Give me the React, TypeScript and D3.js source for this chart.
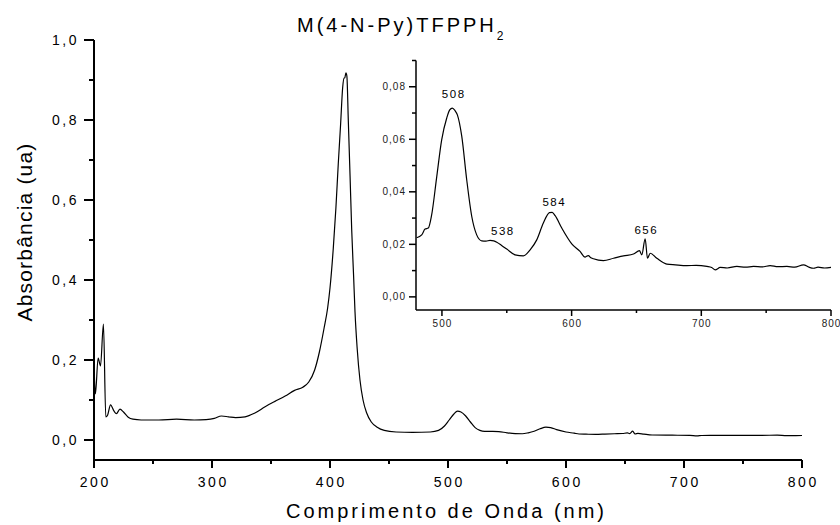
import React from "react";
import * as d3 from "d3";

// ---- Main spectrum data (wavelength nm, absorbance) ----
const mainWavelength = [
  200, 201.2, 203.5, 205.5, 208, 210, 211.5, 214, 217, 219, 222, 225, 229, 233, 240, 255, 270, 285, 295,
  302, 308, 314, 320, 328, 336, 345, 353, 362, 370, 377, 382, 387, 391, 395, 398, 400, 402.8, 405, 407,
  409, 410.7, 411.8, 412.5, 413.5, 414.3, 415.5, 417, 418.4, 420, 421.2, 423, 425.4, 428, 431, 435, 440,
  446, 456, 470, 485, 492, 497, 501, 505, 508, 511, 515, 519, 523, 527, 531, 538, 543, 550, 557, 563,
  568, 573, 578, 583, 587, 592, 600, 607, 611, 617, 625, 633, 641, 648, 652, 654, 656.5, 658.5, 661,
  666, 673, 690, 705, 711, 715, 740, 766, 779, 787, 800,
];
const mainAbsorbance = [
  0.19, 0.115, 0.205, 0.185, 0.29, 0.058, 0.062, 0.088, 0.072, 0.066, 0.077, 0.07, 0.057, 0.052, 0.05,
  0.05, 0.052, 0.05, 0.051, 0.054, 0.06, 0.058, 0.056, 0.058, 0.067, 0.083, 0.096, 0.11, 0.124, 0.132,
  0.145, 0.175, 0.22, 0.28, 0.33, 0.38, 0.48, 0.58, 0.69, 0.79, 0.88, 0.905, 0.905, 0.918, 0.91, 0.8,
  0.66, 0.525, 0.41, 0.32, 0.23, 0.15, 0.1, 0.068, 0.045, 0.032, 0.024, 0.02, 0.019, 0.02, 0.024, 0.035,
  0.05, 0.065, 0.072, 0.07, 0.06, 0.045, 0.031, 0.024, 0.0215, 0.0215, 0.021, 0.018, 0.016, 0.0156,
  0.018, 0.022, 0.028, 0.032, 0.031, 0.026, 0.02, 0.017, 0.015, 0.0145, 0.014, 0.0147, 0.0156, 0.0163,
  0.0176, 0.016, 0.022, 0.015, 0.0166, 0.0147, 0.0125, 0.012, 0.0116, 0.0103, 0.0112, 0.0116, 0.0116,
  0.0122, 0.0109, 0.0112,
];

// ---- Inset spectrum data ----
const insetWavelength = [
  480.5, 484.4, 487, 489.5, 492, 496, 499.8, 503.7, 506, 508, 510, 511.9, 515.3, 519.1, 523, 526.8,
  530.7, 534, 537.1, 540, 542.3, 546, 550, 556.4, 562.8, 568, 573.1, 578.2, 582.9, 585, 587.3, 592.4,
  600.1, 606.5, 610.4, 611.5, 613, 614.5, 616.8, 624.5, 632.3, 640, 647.7, 652.3, 654.1, 656.7, 658.5,
  660.6, 665.7, 673.4, 680, 688.9, 696, 704.3, 708, 710.7, 714.6, 720, 727.4, 734, 740.3, 747, 753.1,
  759, 766, 772, 778.8, 783, 786.6, 790, 795, 800,
];
const insetAbsorbance = [
  0.0225, 0.0236, 0.0258, 0.0262, 0.031, 0.0458, 0.0598, 0.0681, 0.0712, 0.0719, 0.071, 0.0693, 0.0611,
  0.0446, 0.0306, 0.0236, 0.0213, 0.0212, 0.0215, 0.0213, 0.0208, 0.0196, 0.0182, 0.016, 0.0156, 0.0179,
  0.0217, 0.0281, 0.0321, 0.0322, 0.0309, 0.0262, 0.0202, 0.0173, 0.0151, 0.0155, 0.0157, 0.015, 0.0145,
  0.0138, 0.0147, 0.0156, 0.0163, 0.0176, 0.016, 0.0221, 0.0147, 0.0166, 0.0147, 0.0125, 0.0122, 0.0119,
  0.012, 0.0116, 0.0112, 0.0103, 0.0112, 0.011, 0.0116, 0.0113, 0.0116, 0.0114, 0.0119, 0.0115, 0.0116,
  0.0113, 0.0122, 0.0113, 0.0109, 0.0113, 0.011, 0.0112,
];

// ---- Peak annotations (inset) ----
const peakLabels = ["508", "538", "584", "656"];
const peakLabelNm = [508.5, 546.4, 586, 657];
const peakLabelAbs = [0.0758, 0.0236, 0.0347, 0.024];

// ---- Ticks ----
const mainXTicks = [200, 300, 400, 500, 600, 700, 800];
const mainXMinor = [250, 350, 450, 550, 650, 750];
const mainYTicks = [0, 0.2, 0.4, 0.6, 0.8, 1.0];
const mainYMinor = [0.1, 0.3, 0.5, 0.7, 0.9];
const insetXTicks = [500, 600, 700, 800];
const insetXMinor = [550, 650, 750];
const insetYTicks = [0, 0.02, 0.04, 0.06, 0.08];
const insetYMinor = [0.01, 0.03, 0.05, 0.07, 0.09];

const titleMain = "M(4-N-Py)TFPPH";
const titleSub = "2";
const xTitle = "Comprimento de Onda (nm)";
const yTitle = "Absorbância (ua)";

const FONT = "'Liberation Sans', Arial, Helvetica, sans-serif";
const fmt = (d: number, digits: number) => d.toFixed(digits).replace(".", ",");

export default function App() {
  // main scales
  const x = d3.scaleLinear().domain([200, 800]).range([94, 802]);
  const y = d3.scaleLinear().domain([-0.05, 1.0]).range([460, 40]);
  // inset scales
  const ix = d3.scaleLinear().domain([480, 800]).range([416, 831]);
  const iy = d3.scaleLinear().domain([-0.005, 0.09]).range([310, 60.5]);

  const mainData = mainWavelength.map((w, i) => [w, mainAbsorbance[i]] as [number, number]);
  const insetData = insetWavelength.map((w, i) => [w, insetAbsorbance[i]] as [number, number]);

  const mainLine = d3
    .line<[number, number]>()
    .x((d) => x(d[0]))
    .y((d) => y(d[1]))
    .curve(d3.curveMonotoneX);
  const insetLine = d3
    .line<[number, number]>()
    .x((d) => ix(d[0]))
    .y((d) => iy(d[1]))
    .curve(d3.curveMonotoneX);

  const x0 = x.range()[0];
  const yb = y.range()[0];
  const ix0 = ix.range()[0];
  const iyb = iy.range()[0];

  return (
    <svg
      width={840}
      height={525}
      style={{ position: "absolute", left: 0, top: 0, background: "#fff" }}
      fontFamily={FONT}
    >
      <rect width={840} height={525} fill="#fff" />
      {/* Title */}
      <text x={297} y={32} fontSize={20} letterSpacing={3} fill="#000">
        {titleMain}
        <tspan fontSize={12} dy={8}>
          {titleSub}
        </tspan>
      </text>

      {/* Main axes */}
      <g stroke="#000" strokeWidth={2} fill="none">
        <line x1={x0} y1={y(1.0)} x2={x0} y2={yb} />
        <line x1={x0} y1={yb} x2={x(800)} y2={yb} />
        {mainYTicks.map((t) => (
          <line key={"my" + t} x1={x0 - 10} x2={x0} y1={y(t)} y2={y(t)} />
        ))}
        {mainYMinor.map((t) => (
          <line key={"mym" + t} x1={x0 - 5} x2={x0} y1={y(t)} y2={y(t)} />
        ))}
        {mainXTicks.map((t) => (
          <line key={"mx" + t} x1={x(t)} x2={x(t)} y1={yb} y2={yb + 8} />
        ))}
        {mainXMinor.map((t) => (
          <line key={"mxm" + t} x1={x(t)} x2={x(t)} y1={yb} y2={yb + 4} />
        ))}
      </g>
      <g fontSize={14} letterSpacing={2.5} fill="#000">
        {mainYTicks.map((t) => (
          <text key={"myl" + t} x={x0 - 15} y={y(t) + 5} textAnchor="end">
            {fmt(t, 1)}
          </text>
        ))}
        {mainXTicks.map((t) => (
          <text key={"mxl" + t} x={x(t) + 1.25} y={487} textAnchor="middle">
            {t}
          </text>
        ))}
      </g>
      <text x={286} y={518} fontSize={20} letterSpacing={3} fill="#000">
        {xTitle}
      </text>
      <text
        transform={`translate(32, ${232}) rotate(-90)`}
        fontSize={21}
        letterSpacing={1.2}
        textAnchor="middle"
        fill="#000"
      >
        {yTitle}
      </text>

      {/* Main curve */}
      <path d={mainLine(mainData) || ""} fill="none" stroke="#000" strokeWidth={1.2} />

      {/* Inset axes */}
      <g stroke="#000" strokeWidth={1.5} fill="none">
        <line x1={ix0} y1={iy(0.09)} x2={ix0} y2={iyb} />
        <line x1={ix0} y1={iyb} x2={ix(800)} y2={iyb} />
        {insetYTicks.map((t) => (
          <line key={"iy" + t} x1={ix0 - 7} x2={ix0} y1={iy(t)} y2={iy(t)} />
        ))}
        {insetYMinor.map((t) => (
          <line key={"iym" + t} x1={ix0 - 4} x2={ix0} y1={iy(t)} y2={iy(t)} />
        ))}
        {insetXTicks.map((t) => (
          <line key={"ix" + t} x1={ix(t)} x2={ix(t)} y1={iyb} y2={iyb + 6} />
        ))}
        {insetXMinor.map((t) => (
          <line key={"ixm" + t} x1={ix(t)} x2={ix(t)} y1={iyb} y2={iyb + 3} />
        ))}
      </g>
      <g fontSize={10} letterSpacing={1} fill="#222">
        {insetYTicks.map((t) => (
          <text key={"iyl" + t} x={ix0 - 10} y={iy(t) + 3.5} textAnchor="end">
            {fmt(t, 2)}
          </text>
        ))}
        {insetXTicks.map((t) => (
          <text key={"ixl" + t} x={ix(t) + 0.5} y={327} textAnchor="middle">
            {t}
          </text>
        ))}
      </g>

      {/* Inset curve */}
      <path d={insetLine(insetData) || ""} fill="none" stroke="#000" strokeWidth={1.2} />

      {/* Peak labels */}
      <g fontSize={11.5} letterSpacing={1.5} fill="#000">
        {peakLabels.map((p, i) => (
          <text key={p} x={ix(peakLabelNm[i]) + 0.75} y={iy(peakLabelAbs[i])} textAnchor="middle">
            {p}
          </text>
        ))}
      </g>
    </svg>
  );
}
